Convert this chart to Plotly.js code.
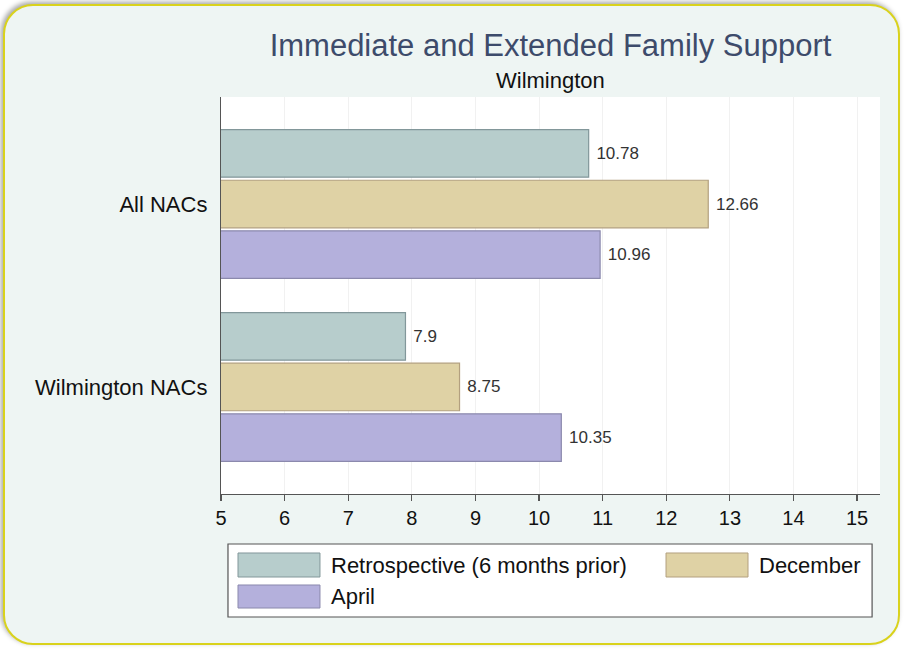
<!DOCTYPE html>
<html>
<head>
<meta charset="utf-8">
<script src="https://cdn.plot.ly/plotly-3.0.1.min.js"></script>
<style>
  html, body { margin: 0; padding: 0; width: 905px; height: 649px; background: #ffffff; overflow: hidden; }
  #frame { position: absolute; left: 3px; top: 4px; width: 893px; height: 637px; border: 2px solid #d9d21c; border-radius: 30px; background: #eef5f3; box-shadow: -2px -2px 5px rgba(0,0,0,0.35); }
  #chart { position: absolute; left: 0; top: 0; width: 905px; height: 649px; }
</style>
</head>
<body>
<div id="frame"></div>
<div id="chart"></div>
<script>
const categories = ["All NACs", "Wilmington NACs"];
const seriesNames = ["Retrospective (6 months prior)", "December", "April"];
const retrospective = [10.78, 7.9];
const december = [12.66, 8.75];
const april = [10.96, 10.35];
const xTicks = [5, 6, 7, 8, 9, 10, 11, 12, 13, 14, 15];

const fills = ["#b7cdcc", "#dfd2a5", "#b4b0dc"];
const lines = ["#82979a", "#b3a07f", "#8b89ad"];
const seriesValues = [retrospective, december, april];

const font = "Liberation Sans, Arial, Helvetica, sans-serif";

const traces = seriesValues.map((vals, i) => ({
  type: "bar",
  orientation: "h",
  name: seriesNames[i],
  y: categories,
  x: vals,
  text: vals.map(v => "\u00a0" + String(v)),
  textposition: "outside",
  cliponaxis: false,
  textfont: { family: font, size: 17, color: "#333333" },
  marker: { color: fills[i], line: { color: lines[i], width: 1.2 } },
  hoverinfo: "x+name",
  showlegend: false
}));

// custom legend (boxes and labels in paper coordinates)
const legendRows = [
  { name: seriesNames[0], color: 0, x: 0.0258, y0: -0.1486, y1: -0.2091 },
  { name: seriesNames[1], color: 1, x: 0.6753, y0: -0.1486, y1: -0.2091 },
  { name: seriesNames[2], color: 2, x: 0.0258, y0: -0.2292, y1: -0.2872 }
];
const shapes = [{
  type: "rect", xref: "paper", yref: "paper",
  x0: 0.0106, x1: 0.988, y0: -0.3098, y1: -0.1259,
  fillcolor: "#ffffff", line: { color: "#555555", width: 1.2 }, layer: "below"
}];
const annotations = [{
  text: "Wilmington", xref: "paper", yref: "paper", x: 0.5, y: 1.0428,
  xanchor: "center", yanchor: "middle", showarrow: false,
  font: { family: font, size: 22, color: "#111111" }
}];
legendRows.forEach(r => {
  shapes.push({
    type: "rect", xref: "paper", yref: "paper",
    x0: r.x, x1: r.x + 0.1244, y0: r.y0, y1: r.y1,
    fillcolor: fills[r.color], line: { color: lines[r.color], width: 1 }
  });
  annotations.push({
    text: r.name, xref: "paper", yref: "paper",
    x: r.x + 0.1385, y: (r.y0 + r.y1) / 2, xanchor: "left", yanchor: "middle",
    showarrow: false, font: { family: font, size: 22, color: "#111111" }
  });
});

const layout = {
  width: 905, height: 649,
  margin: { l: 221, r: 25, t: 97, b: 155, pad: 0 },
  paper_bgcolor: "rgba(0,0,0,0)",
  plot_bgcolor: "#ffffff",
  font: { family: font, color: "#111111" },
  title: {
    text: "Immediate and Extended Family Support",
    x: 0.5, xref: "paper", y: 1 - 45 / 649, yref: "container",
    xanchor: "center", yanchor: "middle",
    font: { family: font, size: 31, color: "#3d4b6b" }
  },
  barmode: "group",
  bargap: 0.17,
  bargroupgap: 0.06,
  xaxis: {
    range: [5, 15.36], tickvals: xTicks, ticktext: xTicks.map(String),
    showline: true, linecolor: "#555555", linewidth: 1.2,
    ticks: "outside", ticklen: 6, tickcolor: "#555555", tickwidth: 1.2,
    showgrid: true, gridcolor: "#f1f1f1", gridwidth: 1, zeroline: false,
    tickfont: { family: font, size: 20, color: "#111111" }
  },
  yaxis: {
    type: "category", categoryarray: categories,
    range: [1.585, -0.585],
    showline: true, linecolor: "#555555", linewidth: 1.2,
    ticks: "", showgrid: false, zeroline: false,
    ticklabelstandoff: 8,
    tickfont: { family: font, size: 22, color: "#111111" }
  },
  shapes: shapes,
  annotations: annotations
};

Plotly.newPlot("chart", traces, layout, { displayModeBar: false, staticPlot: true });
</script>
</body>
</html>
